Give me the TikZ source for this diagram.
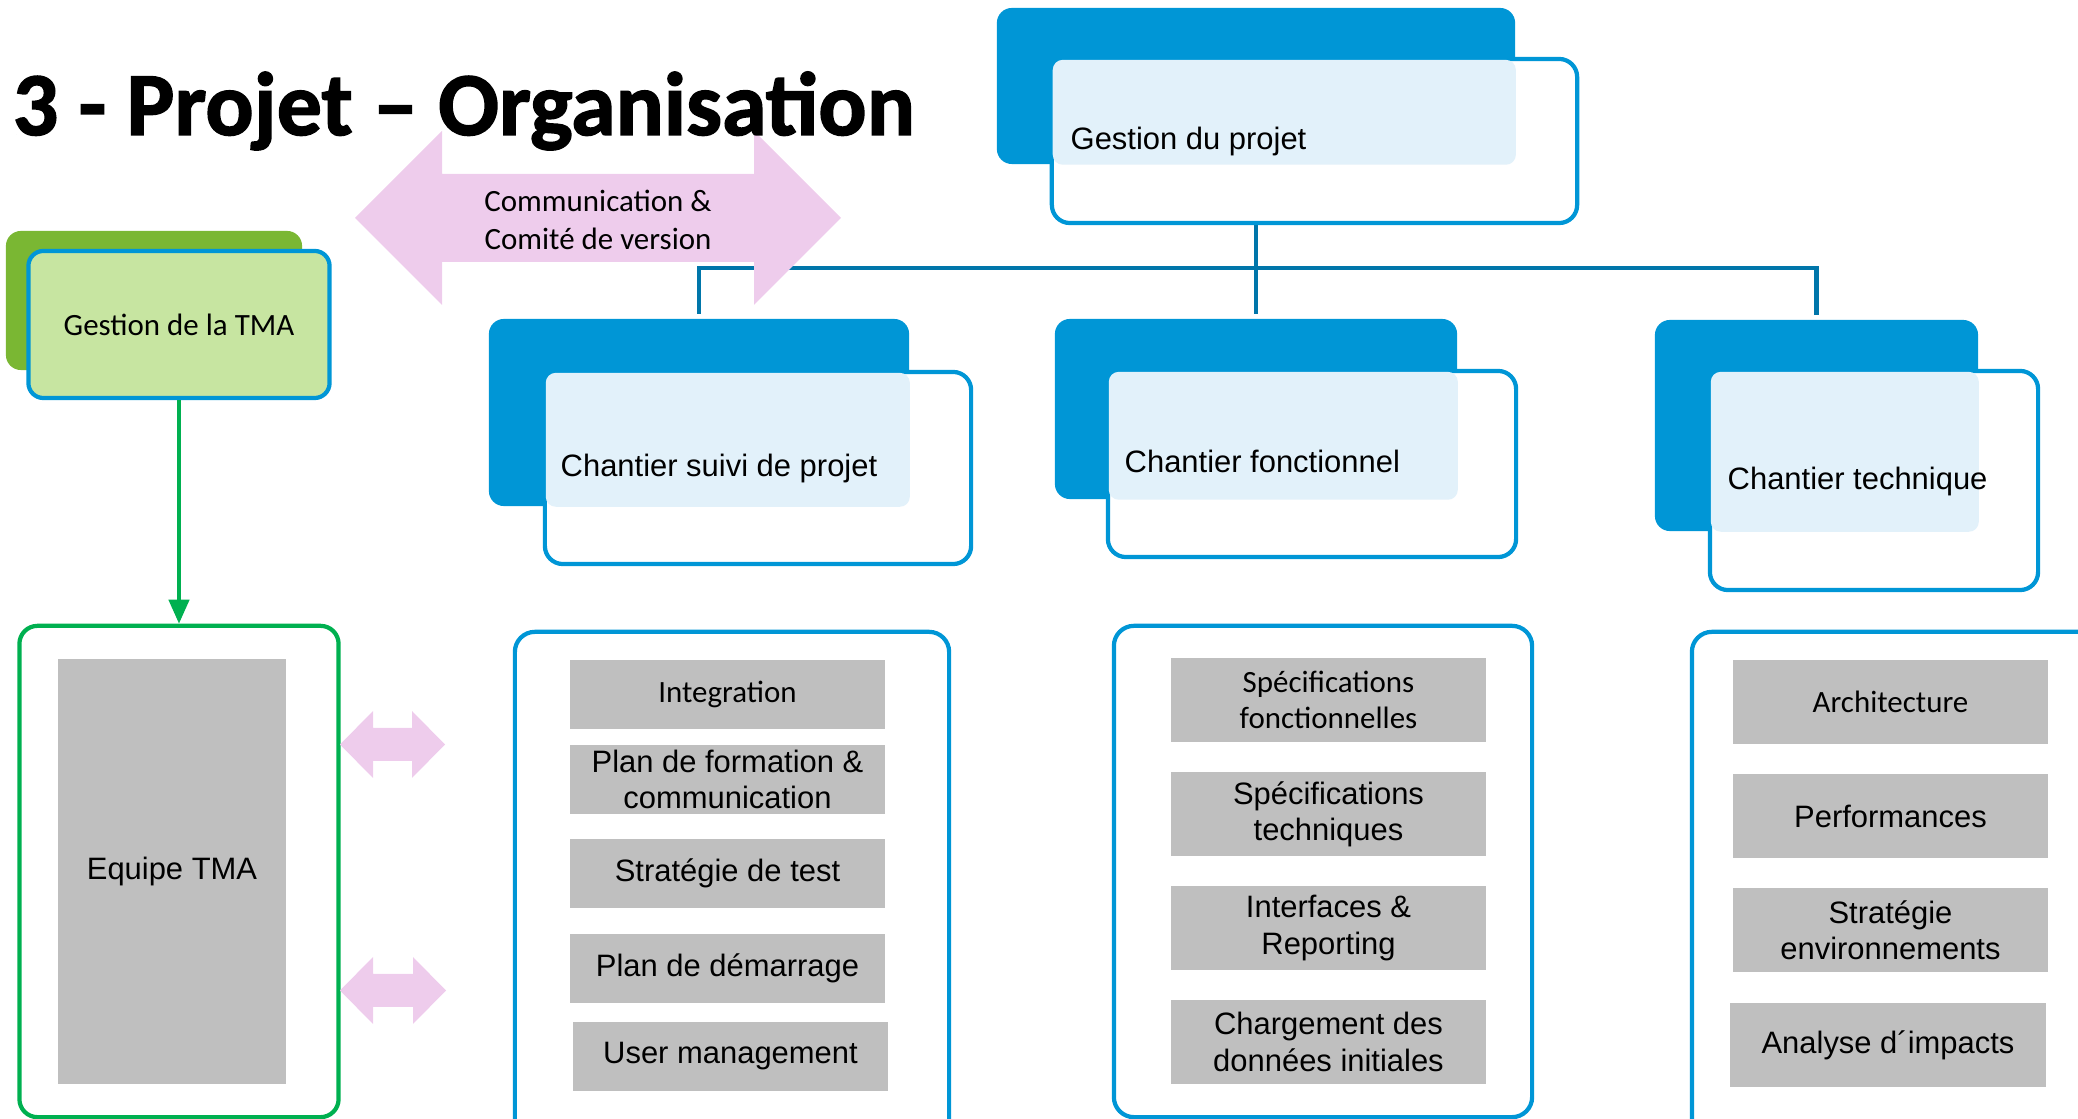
\documentclass[tikz,border=0pt]{standalone}
\usepackage{fontspec}
\setmainfont{Liberation Sans}
\newfontfamily\hpfont{Carlito}
\newfontfamily\hptitle[FakeBold=1.6]{Carlito}
\definecolor{hpblue}{RGB}{0,150,214}
\definecolor{lineblue}{RGB}{0,118,170}
\definecolor{dotblue}{RGB}{226,241,250}
\definecolor{leafgreen}{RGB}{122,183,51}
\definecolor{palegreen}{RGB}{199,229,161}
\definecolor{tmagreen}{RGB}{0,176,80}
\definecolor{lilac}{RGB}{238,204,236}
\definecolor{boxgrey}{RGB}{191,191,191}
\usetikzlibrary{arrows.meta}

% lilac double arrow: left tip, right tip, y, head half, shaft half, head length
\newcommand{\lilacarrow}[6]{%
  \fill[lilac] (#1,#3) -- ({#1+#6},{#3-#4}) -- ({#1+#6},{#3-#5}) -- ({#2-#6},{#3-#5})
    -- ({#2-#6},{#3-#4}) -- (#2,#3) -- ({#2-#6},{#3+#4}) -- ({#2-#6},{#3+#5})
    -- ({#1+#6},{#3+#5}) -- ({#1+#6},{#3+#4}) -- cycle;}

\begin{document}
\begin{tikzpicture}[x=0.01cm,y=-0.01cm,
    every node/.style={inner sep=0pt,font=\fontsize{8.8}{10.3}\selectfont},
    hp/.style={font=\hpfont\fontsize{8.8}{10.3}\selectfont},
    backbox/.style={fill=hpblue,rounded corners=0.15cm},
    frontbox/.style={fill=white,draw=hpblue,line width=1.2pt,rounded corners=0.18cm},
    dotfill/.style={fill=dotblue,rounded corners=0.1cm},
    listbox/.style={draw=hpblue,line width=1.2pt,rounded corners=0.2cm},
    task/.style={fill=boxgrey,minimum width=3.15cm,minimum height=0.84cm,align=center},
    orgline/.style={draw=lineblue,line width=1.3pt},
    tmaarrow/.style={draw=tmagreen,line width=1.2pt,-{Triangle[length=0.24cm,width=0.2cm]}}
    ]
    \useasboundingbox (0,0) rectangle (2078,1119);
    \clip (0,0) rectangle (2078,1119);

    \coordinate (hub) at (1256,268);

    % back boxes
    \node (gpB) [backbox,minimum width=5.18cm,minimum height=1.56cm] at (1256,86) {};
    \node (csB) [backbox,minimum width=4.20cm,minimum height=1.87cm] at (699,412.5) {};
    \node (cfB) [backbox,minimum width=4.02cm,minimum height=1.80cm] at (1256,409) {};
    \node (ctB) [backbox,minimum width=3.23cm,minimum height=2.11cm] at (1816.5,425.5) {};
    \node (tmaB) [fill=leafgreen,rounded corners=0.15cm,minimum width=2.96cm,minimum height=1.39cm] at (154,300.5) {};

    % the edges
    \draw[orgline] (gpB.south) -- (hub);
    \draw[orgline,shorten >=0.04cm] (hub) -| (csB.north);
    \draw[orgline,shorten >=0.04cm] (hub) -- (cfB.north);
    \draw[orgline,shorten >=0.04cm] (hub) -| (ctB.north);

    % front boxes
    \node (gpF) [frontbox,minimum width=5.25cm,minimum height=1.64cm] at (1314.5,141) {};
    \node (csF) [frontbox,minimum width=4.26cm,minimum height=1.92cm] at (758,468) {};
    \node (cfF) [frontbox,minimum width=4.08cm,minimum height=1.86cm] at (1312,464) {};
    \node (ctF) [frontbox,minimum width=3.28cm,minimum height=2.19cm] at (1874,480.5) {};
    \fill[dotfill] ([shift={(3,3)}]gpF.north west) rectangle (gpB.south east);
    \fill[dotfill] ([shift={(3,3)}]csF.north west) rectangle (csB.south east);
    \fill[dotfill] ([shift={(3,3)}]cfF.north west) rectangle (cfB.south east);
    \fill[dotfill] ([shift={(3,3)}]ctF.north west) rectangle (ctB.south east);
    \node (gpT) [anchor=base west] at (1070,150) {Gestion du projet};
    \node (csT) [anchor=base west] at (560,477) {Chantier suivi de projet};
    \node (cfT) [anchor=base west] at (1124,473) {Chantier fonctionnel};
    \node (ctT) [anchor=base west] at (1727,490) {Chantier technique};

    \node (tmaF) [hp,fill=palegreen,draw=hpblue,line width=1.2pt,rounded corners=0.15cm,
      minimum width=3.01cm,minimum height=1.47cm] at (179,324.5) {Gestion de la TMA};

    % TMA team
    \node (eqO) [draw=tmagreen,line width=1.2pt,rounded corners=0.18cm,
      minimum width=3.19cm,minimum height=4.91cm] at (179,871.5) {};
    \node (eqG) [fill=boxgrey,minimum width=2.28cm,minimum height=4.25cm] at (172,871.5) {Equipe TMA};
    \draw[tmaarrow] (tmaF.south) -- (eqO.north);

    % lists
    \node (sl) [listbox,minimum width=4.34cm,minimum height=5.28cm] at (732,896) {};
    \node (s1) [task,hp,minimum height=0.69cm] at (727.5,694.5) {Integration};
    \node (s2) [task,minimum height=0.69cm] at (727.5,779.5) {Plan de formation \&\\communication};
    \node (s3) [task,minimum height=0.69cm] at (727.5,873.5) {Stratégie de test};
    \node (s4) [task,minimum height=0.69cm] at (727.5,968.5) {Plan de démarrage};
    \node (s5) [task,minimum height=0.69cm] at (730.5,1056.5) {User management};

    \node (fl) [listbox,minimum width=4.18cm,minimum height=4.91cm] at (1323,871.5) {};
    \node (f1) [task,hp] at (1328.5,700) {Spécifications\\fonctionnelles};
    \node (f2) [task] at (1328.5,814) {Spécifications\\techniques};
    \node (f3) [task] at (1328.5,928) {Interfaces \&\\Reporting};
    \node (f4) [task] at (1328.5,1042) {Chargement des\\données initiales};

    \node (tl) [listbox,minimum width=4.28cm,minimum height=5.28cm] at (1906,896) {};
    \node (t1) [task,hp] at (1890.5,702) {Architecture};
    \node (t2) [task] at (1890.5,816) {Performances};
    \node (t3) [task] at (1890.5,930) {Stratégie\\environnements};
    \node (t4) [task] at (1888,1045) {Analyse d´impacts};

    % exchanges
    \lilacarrow{340}{445}{744.5}{33.5}{16.5}{33}
    \lilacarrow{340}{446}{990.5}{33.5}{16.5}{33}
    \lilacarrow{355}{841}{218}{87}{44}{87}
    \node (com) [hp,align=center,font=\hpfont\fontsize{8.8}{10.8}\selectfont] at (598,220)
      {Communication \&\\Comité de version};

    \node (title) [anchor=base west,font=\hptitle\bfseries\fontsize{25.6}{30}\selectfont]
      at (12,135) {3 - Projet – Organisation};
\end{tikzpicture}
\end{document}
